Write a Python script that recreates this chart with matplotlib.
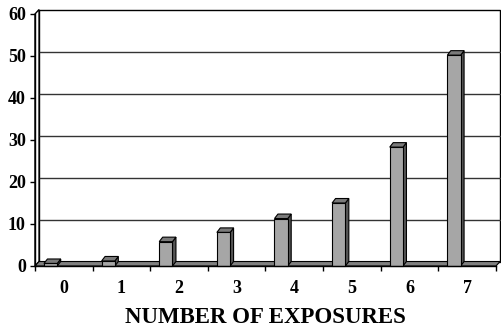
import matplotlib
matplotlib.use('Agg')
import matplotlib.pyplot as plt
from matplotlib.patches import Polygon

exposures = [0, 1, 2, 3, 4, 5, 6, 7]
tick_labels = [str(e) for e in exposures]
values = [0.6, 1.2, 5.8, 8.0, 11.3, 15.0, 28.3, 50.2]
y_ticks = [0, 10, 20, 30, 40, 50, 60]

# pseudo-3D depth offsets (category units, value units)
DX = 0.07
DY = 1.07
BAR_DX = 0.06
BAR_OFF = 0.156
BAR_W = 0.23

plt.rcParams['font.family'] = 'Liberation Serif'
plt.rcParams['font.weight'] = 'bold'

fig = plt.figure(figsize=(5.02, 3.31), dpi=100)
ax = fig.add_axes([35 / 502, 65 / 331, 461 / 502, 252 / 331])
ax.set_xlim(-0.5, 7.5)
ax.set_ylim(0, 60)
x0, x1 = -0.5, 7.5
top = y_ticks[-1]

# back wall, gridlines and left wall
ax.add_patch(Polygon([(x0 + DX, DY), (x1 + DX, DY), (x1 + DX, top + DY), (x0 + DX, top + DY)],
                     closed=True, facecolor='white', edgecolor='black', lw=1.0, clip_on=False, zorder=1))
for v in y_ticks[1:-1]:
    ax.plot([x0 + DX, x1 + DX], [v + DY, v + DY], color='#333333', lw=1.0, clip_on=False, zorder=1.5)
ax.add_patch(Polygon([(x0, 0), (x0, top), (x0 + DX, top + DY), (x0 + DX, DY)],
                     closed=True, facecolor='white', edgecolor='black', lw=1.0, clip_on=False, zorder=2))

# floor
ax.add_patch(Polygon([(x0, 0), (x1, 0), (x1 + DX, DY), (x0 + DX, DY)],
                     closed=True, facecolor='#808080', edgecolor='black', lw=0.8, clip_on=False, zorder=2))

# bars: front face, side face and top
lefts = [e - 0.5 + BAR_OFF for e in exposures]
ax.bar(lefts, values, width=BAR_W, align='edge', color='#a6a6a6',
       edgecolor='black', lw=0.8, zorder=4, clip_on=False)
for xl, v in zip(lefts, values):
    xr = xl + BAR_W
    ax.add_patch(Polygon([(xr, 0), (xr, v), (xr + BAR_DX, v + DY), (xr + BAR_DX, DY)],
                         closed=True, facecolor='#555555', edgecolor='black', lw=0.8,
                         clip_on=False, zorder=3.5))
    ax.add_patch(Polygon([(xl, v), (xr, v), (xr + BAR_DX, v + DY), (xl + BAR_DX, v + DY)],
                         closed=True, facecolor='#7a7a7a', edgecolor='black', lw=0.8,
                         clip_on=False, zorder=3.5))

for side in ['top', 'right']:
    ax.spines[side].set_visible(False)
ax.spines['left'].set_linewidth(1.0)
ax.spines['bottom'].set_linewidth(1.0)
ax.spines['left'].set_zorder(5)
ax.spines['bottom'].set_zorder(5)
ax.patch.set_visible(False)

ax.set_yticks(y_ticks)
ax.set_yticklabels([str(t) for t in y_ticks])
ax.tick_params(axis='y', direction='out', length=3.6, width=1.0, pad=3, labelsize=13)
ax.set_xticks(exposures)
ax.set_xticklabels(tick_labels)
ax.set_xticks([e - 0.5 for e in exposures] + [7.5], minor=True)
ax.tick_params(axis='x', which='major', length=0, pad=10, labelsize=13)
ax.tick_params(axis='x', which='minor', direction='out', length=3.6, width=1.0)

ax.set_xlabel('NUMBER OF EXPOSURES', fontsize=16.5, fontweight='bold', labelpad=7)

fig.savefig('out.png', dpi=100)
